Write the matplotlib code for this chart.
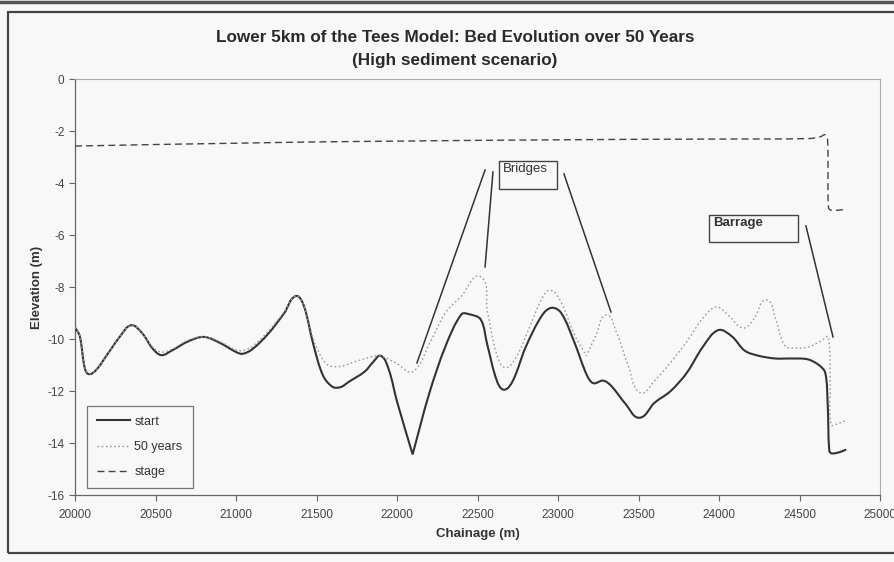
import numpy as np
import matplotlib
matplotlib.use("Agg")
import matplotlib.pyplot as plt
from matplotlib.patches import Rectangle, PathPatch
from matplotlib.path import Path
from matplotlib.lines import Line2D

plt.rcParams['font.family'] = ['Liberation Sans', 'DejaVu Sans']

# Chainage (m) and bed elevation (m) at the start of the run
start_x = [20000, 20030, 20060, 20085, 20130, 20200, 20280, 20350, 20420, 20480,
           20535, 20600, 20700, 20800, 20900, 21000, 21040, 21100, 21200, 21300,
           21370, 21420, 21480, 21540, 21600, 21650, 21700, 21800, 21850, 21900,
           21950, 22000, 22097, 22200, 22300, 22400, 22450, 22520, 22560, 22620,
           22665, 22720, 22800, 22900, 22960, 23020, 23100, 23180, 23220, 23280,
           23330, 23420, 23505, 23600, 23700, 23800, 23900, 23995, 24080, 24160,
           24250, 24350, 24450, 24550, 24620, 24660, 24675, 24685, 24700, 24750,
           24790]
start_z = [-9.55, -9.9, -11.1, -11.35, -11.2, -10.6, -9.9, -9.47, -9.8, -10.35,
           -10.62, -10.45, -10.1, -9.92, -10.15, -10.5, -10.57, -10.4, -9.8, -9.0,
           -8.35, -8.7, -10.2, -11.4, -11.84, -11.85, -11.65, -11.25, -10.9, -10.65,
           -11.2, -12.4, -14.44, -12.1, -10.3, -9.05, -9.05, -9.25, -10.2, -11.6,
           -11.95, -11.6, -10.3, -9.1, -8.8, -9.0, -10.1, -11.4, -11.7, -11.6,
           -11.8, -12.5, -13.03, -12.45, -12.0, -11.3, -10.3, -9.66, -9.9, -10.45,
           -10.65, -10.75, -10.75, -10.78, -11.0, -11.3, -12.5, -14.3, -14.4, -14.35,
           -14.25]

# Bed elevation after 50 years
y50_x = [20000, 20030, 20060, 20085, 20130, 20200, 20280, 20350, 20420, 20480,
         20535, 20600, 20700, 20800, 20900, 21000, 21040, 21100, 21200, 21300,
         21370, 21420, 21480, 21540, 21580, 21650, 21750, 21890, 22000, 22097,
         22200, 22300, 22400, 22519, 22560, 22620, 22674, 22740, 22820, 22900,
         22953, 23020, 23100, 23176, 23240, 23300, 23360, 23440, 23511, 23600,
         23700, 23800, 23900, 23983, 24060, 24150, 24220, 24293, 24350, 24411,
         24480, 24560, 24640, 24678, 24690, 24696, 24740, 24783]
y50_z = [-9.55, -9.9, -11.1, -11.33, -11.2, -10.6, -9.9, -9.47, -9.8, -10.3,
         -10.5, -10.4, -10.05, -9.92, -10.1, -10.42, -10.45, -10.3, -9.7, -8.95,
         -8.35, -8.7, -10.0, -10.8, -11.03, -11.05, -10.85, -10.65, -10.95, -11.26,
         -10.2, -9.0, -8.35, -7.6, -8.9, -10.6, -11.1, -10.7, -9.6, -8.45,
         -8.12, -8.6, -9.8, -10.65, -9.8, -9.08, -9.7, -11.1, -12.07, -11.6,
         -10.9, -10.1, -9.2, -8.77, -9.1, -9.58, -9.2, -8.5, -9.2, -10.27,
         -10.35, -10.3, -10.05, -9.92, -11.5, -13.3, -13.25, -13.15]

# Water stage
stage_x = [20000, 20500, 21000, 21500, 22000, 22500, 23000, 23500, 24000, 24560,
           24630, 24660, 24675, 24680, 24700, 24783]
stage_z = [-2.58, -2.52, -2.47, -2.42, -2.39, -2.36, -2.34, -2.32, -2.31, -2.29,
           -2.22, -2.15, -2.4, -4.95, -5.05, -5.02]

x_ticks = [20000, 20500, 21000, 21500, 22000, 22500, 23000, 23500, 24000, 24500, 25000]
y_ticks = [0, -2, -4, -6, -8, -10, -12, -14, -16]

# Label boxes (x0, x1, z_top, z_bottom) and their leader lines
bridges_box = (22634, 22994, -3.15, -4.23)
bridges_leaders = [((22547, -3.5), (22124, -10.92)),
                   ((22596, -3.58), (22547, -7.23)),
                   ((23037, -3.65), (23329, -8.96))]
barrage_box = (23938, 24491, -5.23, -6.27)
barrage_leaders = [((24540, -5.65), (24708, -9.92))]

XLIM = (20000, 25000)
YLIM = (-16, 0)

bg = '#f8f8f8'
W, H = 894, 562
left, right, top, bottom = 75, 880, 79, 495


def smooth_path(xs, zs, corner_deg=125.0):
    """Smoothed-line path through the given points (cubic Bezier segments),
    with tangents worked out in screen proportions so the curve does not overshoot."""
    sx = (right - left) / (XLIM[1] - XLIM[0])
    sz = (bottom - top) / (YLIM[1] - YLIM[0])
    P = np.column_stack([np.asarray(xs, float) * sx, np.asarray(zs, float) * sz])
    n = len(P)
    tang = np.zeros_like(P)
    sharp = np.zeros(n, bool)
    for i in range(n):
        if i == 0:
            d = P[1] - P[0]
        elif i == n - 1:
            d = P[-1] - P[-2]
        else:
            a = P[i] - P[i - 1]
            b = P[i + 1] - P[i]
            cosang = np.dot(a, b) / (np.linalg.norm(a) * np.linalg.norm(b))
            if np.degrees(np.arccos(np.clip(cosang, -1, 1))) > corner_deg:
                sharp[i] = True
            d = P[i + 1] - P[i - 1]
        tang[i] = d / np.linalg.norm(d)
    verts = [P[0]]
    codes = [Path.MOVETO]
    for i in range(n - 1):
        seg = P[i + 1] - P[i]
        L = np.linalg.norm(seg) / 3.0
        t0 = seg / np.linalg.norm(seg) if sharp[i] else tang[i]
        t1 = seg / np.linalg.norm(seg) if sharp[i + 1] else tang[i + 1]
        verts += [P[i] + t0 * L, P[i + 1] - t1 * L, P[i + 1]]
        codes += [Path.CURVE4] * 3
    V = np.array(verts)
    V[:, 0] /= sx
    V[:, 1] /= sz
    return Path(V, codes)


fig = plt.figure(figsize=(W / 100, H / 100), dpi=100, facecolor=bg)

# chart area frame
fig.add_artist(Rectangle((8 / W, 1 - 553 / H), 1.2, (553 - 12) / H,
                         transform=fig.transFigure, fill=False,
                         edgecolor='#444444', linewidth=1.6))
fig.add_artist(Line2D([0, 1], [1 - 2 / H, 1 - 2 / H], transform=fig.transFigure,
                      color='#555555', linewidth=2.5))

ax = fig.add_axes([left / W, 1 - bottom / H, (right - left) / W, (bottom - top) / H])
ax.set_facecolor(bg)

series = [
    (start_x, start_z, dict(edgecolor='#333333', linewidth=1.5, linestyle='-'), 'start'),
    (y50_x, y50_z, dict(edgecolor='#9a9a9a', linewidth=1.0, linestyle=(0, (1.2, 1.8))), '50 years'),
    (stage_x, stage_z, dict(edgecolor='#444444', linewidth=1.0, linestyle=(0, (5, 3))), 'stage'),
]
handles = []
for xs, zs, style, label in series:
    ax.add_patch(PathPatch(smooth_path(xs, zs), facecolor='none', zorder=3, **style))
    handles.append(Line2D([], [], color=style['edgecolor'], linewidth=style['linewidth'],
                          linestyle=style['linestyle'], label=label))

ax.set_xlim(*XLIM)
ax.set_ylim(*YLIM)
ax.set_xticks(x_ticks)
ax.set_yticks(y_ticks)
ax.set_xticklabels([str(v) for v in x_ticks])
ax.set_yticklabels([str(v) for v in y_ticks])
ax.tick_params(axis='both', direction='out', length=4, width=0.8, colors='#666666',
               labelsize=8.5, labelcolor='#444444')
ax.tick_params(axis='x', pad=6)
for side in ('left', 'bottom'):
    ax.spines[side].set_color('#666666')
    ax.spines[side].set_linewidth(0.9)
for side in ('top', 'right'):
    ax.spines[side].set_color('#aaaaaa')
    ax.spines[side].set_linewidth(0.8)

ax.set_xlabel('Chainage (m)', fontsize=9.5, fontweight='bold', color='#333333', labelpad=5)
ax.set_ylabel('Elevation (m)', fontsize=9.5, fontweight='bold', color='#333333', labelpad=3)

fig.text(455 / W, 1 - 37 / H, 'Lower 5km of the Tees Model: Bed Evolution over 50 Years',
         ha='center', va='center', fontsize=12.3, fontweight='bold', color='#2a2a2a')
fig.text(455 / W, 1 - 60 / H, '(High sediment scenario)',
         ha='center', va='center', fontsize=12.3, fontweight='bold', color='#2a2a2a')

# annotation boxes
for (x0, x1, zt, zb), label, weight, leaders in [
        (bridges_box, 'Bridges', 'normal', bridges_leaders),
        (barrage_box, 'Barrage', 'bold', barrage_leaders)]:
    ax.add_patch(Rectangle((x0, zb), x1 - x0, zt - zb, fill=True, facecolor=bg,
                           edgecolor='#444444', linewidth=1.0, zorder=4))
    ax.text(x0 + 25, zt - 0.08, label, ha='left', va='top', fontsize=9.5,
            fontweight=weight, color='#333333', zorder=5)
    for (xa, za), (xb, zb2) in leaders:
        ax.plot([xa, xb], [za, zb2], color='#333333', linewidth=1.1, zorder=4)

leg = ax.legend(handles=handles, loc='lower left', bbox_to_anchor=(12 / 805, 7 / 416),
                borderaxespad=0, fontsize=9, frameon=True, fancybox=False,
                handlelength=2.6, borderpad=0.8, labelspacing=1.05, handletextpad=0.4)
leg.get_frame().set_edgecolor('#555555')
leg.get_frame().set_facecolor(bg)
leg.get_frame().set_linewidth(0.9)
for t in leg.get_texts():
    t.set_color('#333333')

fig.savefig('out.png', dpi=100, facecolor=bg)
